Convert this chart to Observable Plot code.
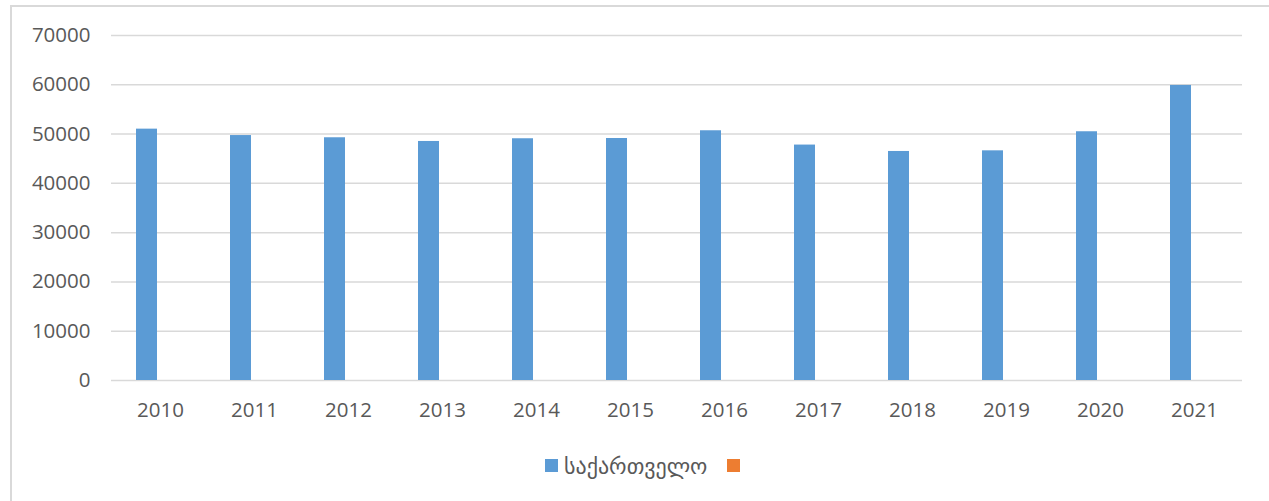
<!DOCTYPE html>
<html>
<head>
<meta charset="utf-8">
<script src="https://cdn.jsdelivr.net/npm/d3@7"></script>
<script src="https://cdn.jsdelivr.net/npm/@observablehq/plot@0.6"></script>
<style>
  html, body { margin: 0; padding: 0; background: #fff; }
  #wrap { position: relative; width: 1269px; height: 501px; overflow: hidden; font-family: "Open Sans", "DejaVu Sans", sans-serif; }
  #frame { position: absolute; left: 10px; top: 5px; width: 1400px; height: 600px; border-top: 2px solid #d9d9d9; border-left: 2px solid #d9d9d9; pointer-events: none; }
  #chart { position: absolute; left: 0; top: 0; }
  #legend { position: absolute; left: 545px; top: 450px; display: flex; align-items: center; font-size: 22px; color: #595959; white-space: nowrap; }
  .sw { display: inline-block; width: 13px; height: 13px; margin-right: 6px; }
  .item { display: inline-flex; align-items: center; margin-right: 20px; }
</style>
</head>
<body>
<div id="wrap">
  <div id="chart"></div>
  <div id="legend"></div>
  <div id="frame"></div>
</div>
<script>
const years = ["2010","2011","2012","2013","2014","2015","2016","2017","2018","2019","2020","2021"];
const values = [51000, 49700, 49250, 48500, 49050, 49100, 50670, 47770, 46470, 46600, 50470, 59870];
const seriesNames = ["საქართველო", ""];
const seriesColors = ["#5b9bd5", "#ed7d31"];
const yTicks = [0, 10000, 20000, 30000, 40000, 50000, 60000, 70000];

const data = years.map((y, i) => ({year: y, value: values[i]}));

const chart = Plot.plot({
  width: 1269,
  height: 440,
  marginLeft: 111,
  marginRight: 27,
  marginTop: 35,
  marginBottom: 60,
  style: {fontFamily: "'Open Sans', sans-serif", fontSize: "20.5px", color: "#595959", background: "transparent"},
  x: {domain: years, padding: 0, label: null, tickSize: 0, tickPadding: 22},
  y: {domain: [0, 70000], ticks: yTicks, label: null, tickSize: 0, tickPadding: 21, tickFormat: d => String(d)},
  marks: [
    Plot.gridY(yTicks.filter(d => d > 0), {stroke: "#d9d9d9", strokeOpacity: 1, strokeWidth: 1.5}),
    Plot.ruleY([0], {stroke: "#d9d9d9", strokeWidth: 1.5}),
    Plot.barY(data, {x: "year", y: "value", fill: seriesColors[0], insetLeft: 23, insetRight: 50})
  ]
});
document.getElementById("chart").appendChild(chart);

const legend = document.getElementById("legend");
seriesNames.forEach((name, i) => {
  const item = document.createElement("span");
  item.className = "item";
  const sw = document.createElement("span");
  sw.className = "sw";
  sw.style.background = seriesColors[i];
  item.appendChild(sw);
  if (name) {
    const t = document.createElement("span");
    t.textContent = name;
    item.appendChild(t);
  }
  legend.appendChild(item);
});
</script>
</body>
</html>
